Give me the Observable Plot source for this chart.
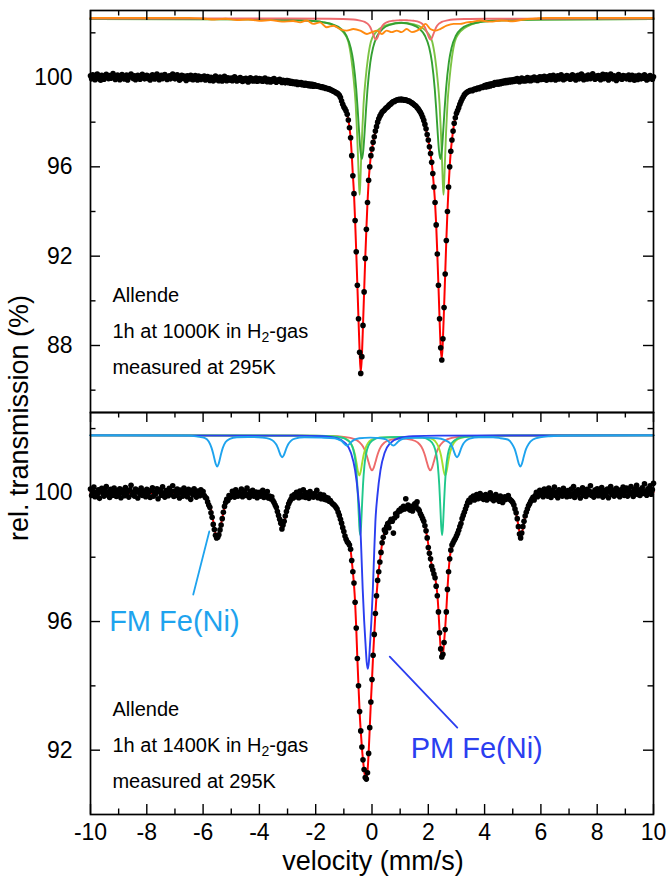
<!DOCTYPE html>
<html><head><meta charset="utf-8">
<script src="https://cdn.jsdelivr.net/npm/d3@7"></script>
<script src="https://cdn.jsdelivr.net/npm/@observablehq/plot@0.6"></script>
<style>
body{margin:0;background:#fff;}
#wrap{position:relative;width:668px;height:884px;font-family:"Liberation Sans",Arial,sans-serif;overflow:hidden;}
#wrap svg{position:absolute;left:0;overflow:visible;}
.ttl{position:absolute;color:#000;font-size:27px;line-height:28px;white-space:nowrap;transform:translate(-50%,-50%);}
</style></head><body><div id="wrap"></div><script>
// ---------- velocity channels ----------
const velStart = -10, velStep = 0.04;

// ---------- top spectrum (1000 K) : measured transmission per channel ----------
const topTransmission = [
100.08,99.94,100.12,100.02,99.90,100.06,100.15,99.96,100.04,99.88,100.10,100.00,99.92,100.07,100.14,100.03,99.95,100.09,99.97,100.05,100.18,100.06,99.91,100.02,100.11,
100.00,99.90,100.07,100.13,100.04,99.93,100.02,100.11,99.89,100.00,100.09,100.16,100.05,99.96,100.08,99.90,100.03,100.10,100.00,99.92,100.07,100.14,100.04,99.94,100.02,
100.10,99.96,100.05,99.89,100.00,100.12,100.06,99.93,100.03,100.15,100.05,99.90,100.00,100.10,99.95,100.05,100.13,100.02,99.91,100.00,100.08,99.94,100.05,100.16,100.02,
99.94,100.05,100.12,100.00,99.88,100.03,100.10,99.96,100.06,100.00,99.87,100.08,100.02,99.93,100.10,100.05,99.90,100.00,100.09,99.96,99.89,100.06,100.00,99.91,100.03,
99.97,100.06,99.89,99.95,100.04,99.92,99.87,100.01,99.95,99.85,99.98,100.07,99.90,99.96,99.86,100.02,99.93,99.84,99.96,100.05,99.90,99.86,99.99,99.93,99.88,
99.97,99.86,99.92,100.03,99.90,99.84,99.95,99.88,100.00,99.91,99.82,99.94,99.87,99.96,99.89,99.80,99.92,99.99,99.86,99.94,99.84,99.90,99.97,99.83,99.92,
99.95,99.86,99.93,99.83,99.90,99.97,99.85,99.81,99.92,99.88,99.80,99.91,99.85,99.95,99.83,99.79,99.89,99.84,99.92,99.82,99.78,99.88,99.84,99.76,99.86,
99.86,99.77,99.84,99.74,99.82,99.73,99.80,99.72,99.80,99.69,99.77,99.70,99.77,99.68,99.74,99.66,99.74,99.65,99.72,99.63,99.71,99.62,99.70,99.61,99.67,
99.64,99.61,99.63,99.59,99.60,99.56,99.58,99.54,99.55,99.51,99.52,99.48,99.49,99.45,99.44,99.41,99.38,99.36,99.32,99.30,99.26,99.20,99.10,98.95,98.80,
98.68,98.60,98.50,98.35,98.10,97.75,97.30,96.50,95.60,94.80,93.60,92.20,90.70,89.20,87.70,86.75,87.50,88.90,90.40,91.90,93.20,94.40,95.40,96.00,96.50,
96.80,97.10,97.35,97.60,97.80,98.00,98.15,98.27,98.36,98.45,98.50,98.54,98.61,98.66,98.69,98.75,98.80,98.83,98.89,98.92,98.93,98.97,98.99,99.00,99.02,
99.00,99.03,98.99,99.01,98.98,99.00,98.97,98.95,98.94,98.90,98.88,98.84,98.80,98.76,98.72,98.66,98.60,98.52,98.44,98.34,98.22,98.08,97.90,97.70,97.45,
97.20,96.90,96.60,96.20,95.70,95.10,94.40,93.40,92.10,90.70,89.20,87.90,87.35,88.30,89.70,91.20,92.70,94.00,95.10,96.00,96.70,97.20,97.60,97.95,98.20,
98.40,98.52,98.65,98.80,98.92,99.04,99.13,99.22,99.28,99.33,99.36,99.38,99.42,99.43,99.41,99.45,99.48,99.46,99.50,99.53,99.50,99.55,99.57,99.55,99.60,
99.64,99.58,99.67,99.60,99.70,99.62,99.72,99.68,99.66,99.77,99.70,99.78,99.70,99.80,99.72,99.82,99.75,99.84,99.77,99.86,99.78,99.87,99.80,99.89,99.81,
99.90,99.82,99.92,99.84,99.95,99.86,99.81,99.92,99.97,99.85,99.93,99.84,99.95,100.00,99.87,99.96,99.86,99.98,99.90,100.02,99.90,99.98,99.87,99.97,100.03,
99.91,100.02,99.92,100.05,99.95,99.88,100.03,99.96,100.08,99.91,99.98,100.10,99.95,99.89,100.02,100.08,99.93,100.01,100.12,99.96,99.90,100.04,99.95,100.09,99.99,
100.05,99.92,100.00,100.12,99.96,100.06,99.89,100.02,100.10,99.94,100.04,100.15,99.98,99.90,100.07,100.00,99.93,100.11,100.03,99.95,100.09,100.17,100.00,99.92,100.06,
99.97,100.09,100.00,99.90,100.06,100.14,99.95,100.03,100.12,99.97,99.89,100.06,100.16,100.02,99.94,100.08,100.00,99.87,100.05,100.13,99.96,100.03,99.92,100.09,100.00,
100.06,99.94,100.00,100.11,99.91,100.03,100.10,99.96,99.88,100.06,100.00,99.91,100.10,100.02,99.94,100.07,99.97,100.12,100.00,99.89,100.04,99.94,100.09,100.00,99.92,100.03
];

// ---------- bottom spectrum (1400 K) ----------
const bottomTransmission = [
100.12,99.92,100.05,100.18,99.88,100.02,99.95,100.10,99.83,100.06,100.14,99.97,99.90,100.08,100.20,99.94,100.03,99.86,100.11,100.00,99.93,100.15,100.04,99.89,100.07,
99.96,100.13,99.85,100.02,100.09,99.91,100.17,99.98,100.05,99.87,100.10,100.24,99.95,100.01,99.90,100.12,100.03,99.84,100.07,99.97,100.15,99.92,100.06,100.00,99.88,
100.11,99.94,100.04,99.86,100.08,100.16,99.90,100.02,99.97,100.13,99.82,100.05,100.10,99.93,100.19,99.99,99.87,100.07,100.02,99.91,100.14,99.95,100.04,100.22,99.89,
100.06,99.93,100.12,99.98,99.84,100.09,100.03,99.90,100.15,99.96,100.05,99.88,100.11,100.00,99.80,100.07,99.94,100.13,100.02,99.87,100.06,99.97,99.91,100.10,99.95,
100.04,99.92,99.86,99.83,99.72,99.62,99.55,99.38,99.24,99.02,98.86,98.68,98.60,98.62,98.70,98.85,99.00,99.20,99.40,99.58,99.70,99.80,99.76,99.92,99.86,
99.90,100.05,99.95,99.87,100.10,99.98,99.90,100.02,99.94,100.12,99.88,99.99,100.06,99.92,100.15,99.96,99.86,100.04,99.93,100.08,99.90,99.97,100.03,99.85,99.95,
100.02,99.90,99.98,100.08,99.86,99.95,99.92,100.04,99.84,99.90,99.82,99.88,99.76,99.70,99.62,99.55,99.42,99.30,99.18,99.06,98.88,99.00,99.12,99.28,99.42,
99.55,99.66,99.74,99.80,99.90,99.84,99.95,99.88,100.02,99.92,99.85,100.06,99.94,99.88,100.10,99.96,99.86,100.00,99.92,99.83,100.04,99.90,99.95,99.87,99.98,
99.92,100.08,99.85,99.90,99.96,99.82,99.88,99.93,99.80,99.86,99.78,99.84,99.74,99.76,99.70,99.66,99.64,99.60,99.55,99.50,99.40,99.30,99.18,99.06,98.92,
98.80,98.66,98.56,98.48,98.44,98.38,98.25,97.90,97.55,97.20,96.60,95.80,94.85,94.00,93.20,92.60,92.10,91.70,91.40,91.15,91.10,91.30,91.90,92.70,93.50,
94.20,94.95,95.60,96.25,96.80,97.28,97.55,97.85,98.15,98.45,98.62,98.85,98.78,98.95,99.05,98.92,99.10,99.18,99.12,98.75,99.22,99.35,99.28,99.40,99.46,
99.44,99.52,99.48,99.58,99.50,99.82,99.55,99.62,99.50,99.46,99.58,99.44,99.52,99.66,99.60,99.72,99.50,99.45,99.35,99.28,99.20,99.12,98.98,98.82,98.60,
98.30,98.12,97.95,97.72,97.60,97.48,97.36,97.10,96.80,96.30,95.65,95.15,94.90,94.98,95.35,95.75,96.30,97.00,97.55,97.95,98.22,98.38,98.45,98.52,98.58,
98.66,98.74,98.84,98.95,99.05,99.20,99.30,99.40,99.50,99.60,99.70,99.77,99.72,99.85,99.80,99.90,99.78,99.86,99.95,99.82,99.88,99.98,99.84,99.92,99.80,
99.86,99.95,99.78,99.90,99.84,100.00,99.82,99.90,99.76,99.88,99.95,99.80,99.86,99.74,99.90,99.82,99.70,99.78,99.88,99.80,99.85,99.92,99.82,99.78,99.75,
99.70,99.62,99.50,99.38,99.20,98.95,98.72,98.60,98.75,98.95,99.12,99.28,99.40,99.50,99.60,99.66,99.74,99.80,99.86,99.78,99.92,100.02,99.88,99.96,100.08,
99.94,100.04,99.88,100.12,99.96,100.06,99.90,100.15,100.00,99.86,100.08,99.95,100.18,99.92,100.03,99.85,100.10,99.98,100.05,99.90,100.14,99.96,100.02,99.88,100.07,
100.00,99.90,100.12,99.97,100.20,99.86,100.05,99.94,100.10,99.99,99.84,100.08,100.16,99.93,100.03,99.89,100.11,99.96,100.06,100.22,99.92,100.01,99.87,100.09,99.95,
100.13,99.91,100.04,99.98,100.17,99.87,100.07,100.00,99.93,100.12,99.85,100.05,100.20,99.96,100.09,99.90,100.02,100.14,99.94,100.06,99.88,100.10,100.00,100.18,99.92,
100.05,100.15,99.90,100.08,99.97,100.20,100.03,99.89,100.12,100.01,100.24,99.95,100.10,99.92,100.06,100.16,99.98,100.28,100.04,99.93,100.13,100.02,100.22,99.96,100.10,100.30
];

// ---------- fitted envelopes [velocity, transmission] ----------
const topFit = [[-10,100.01],[-6,99.98],[-5,99.95],[-4,99.88],[-3,99.78],[-2.5,99.71],[-2,99.62],[-1.6,99.52],[-1.3,99.35],[-1.2,99.27],[-1.12,99.12],[-1.04,98.83],[-1.0,98.7],[-0.96,98.6],[-0.92,98.49],[-0.88,98.34],[-0.84,98.1],[-0.8,97.75],[-0.76,97.3],[-0.72,96.55],[-0.68,95.65],[-0.64,94.8],[-0.6,93.6],[-0.56,92.2],[-0.52,90.7],[-0.48,89.2],[-0.44,87.75],[-0.4,86.8],[-0.36,87.5],[-0.32,88.9],[-0.28,90.4],[-0.24,91.9],[-0.2,93.2],[-0.16,94.4],[-0.12,95.35],[-0.08,96.0],[-0.04,96.5],[0,96.8],[0.08,97.35],[0.16,97.8],[0.24,98.15],[0.36,98.44],[0.52,98.66],[0.72,98.88],[0.92,98.99],[1.1,99.01],[1.25,98.97],[1.4,98.88],[1.52,98.76],[1.64,98.6],[1.72,98.44],[1.8,98.22],[1.88,97.9],[1.96,97.45],[2.04,96.9],[2.12,96.2],[2.2,95.1],[2.24,94.4],[2.28,93.4],[2.32,92.1],[2.36,90.7],[2.4,89.2],[2.44,87.9],[2.48,87.4],[2.52,88.3],[2.56,89.7],[2.6,91.2],[2.64,92.7],[2.68,94.0],[2.72,95.1],[2.76,96.0],[2.8,96.7],[2.84,97.2],[2.88,97.6],[2.92,97.95],[2.96,98.2],[3.04,98.53],[3.12,98.8],[3.2,99.04],[3.3,99.25],[3.5,99.42],[3.8,99.52],[4.0,99.6],[4.5,99.75],[5,99.87],[6,99.96],[7,100.0],[10,100.0]];

const bottomFit = [[-10,100.0],[-7,100.0],[-6.2,99.97],[-6.0,99.92],[-5.9,99.85],[-5.8,99.7],[-5.72,99.5],[-5.66,99.22],[-5.6,98.92],[-5.56,98.74],[-5.52,98.64],[-5.48,98.64],[-5.44,98.72],[-5.4,98.88],[-5.34,99.12],[-5.28,99.38],[-5.2,99.64],[-5.1,99.8],[-4.9,99.92],[-4.2,99.96],[-3.8,99.92],[-3.6,99.85],[-3.5,99.76],[-3.42,99.6],[-3.34,99.38],[-3.28,99.15],[-3.22,98.95],[-3.18,98.92],[-3.14,99.0],[-3.08,99.24],[-3.02,99.48],[-2.94,99.7],[-2.8,99.86],[-2.5,99.94],[-2.0,99.92],[-1.7,99.86],[-1.5,99.76],[-1.36,99.64],[-1.24,99.48],[-1.12,99.2],[-1.04,98.95],[-0.96,98.7],[-0.88,98.5],[-0.8,98.36],[-0.76,98.22],[-0.72,97.9],[-0.68,97.55],[-0.64,97.15],[-0.6,96.6],[-0.56,95.8],[-0.52,94.85],[-0.48,94.0],[-0.44,93.2],[-0.4,92.6],[-0.36,92.1],[-0.32,91.7],[-0.28,91.38],[-0.24,91.16],[-0.2,91.12],[-0.16,91.35],[-0.12,91.9],[-0.08,92.7],[-0.04,93.5],[0,94.2],[0.04,94.95],[0.08,95.6],[0.12,96.25],[0.16,96.8],[0.2,97.25],[0.28,97.88],[0.36,98.42],[0.44,98.75],[0.56,98.98],[0.68,99.12],[0.8,99.26],[0.92,99.38],[1.1,99.52],[1.3,99.58],[1.5,99.54],[1.64,99.44],[1.72,99.34],[1.8,99.18],[1.88,98.96],[1.96,98.62],[2.04,98.16],[2.12,97.76],[2.2,97.48],[2.26,97.28],[2.32,96.85],[2.36,96.35],[2.4,95.7],[2.44,95.15],[2.48,94.88],[2.52,94.98],[2.56,95.35],[2.6,95.8],[2.64,96.35],[2.68,97.0],[2.72,97.55],[2.76,97.95],[2.8,98.2],[2.88,98.45],[2.96,98.58],[3.04,98.74],[3.12,98.94],[3.2,99.18],[3.3,99.44],[3.4,99.66],[3.5,99.78],[3.8,99.88],[4.4,99.86],[4.8,99.82],[4.96,99.74],[5.04,99.6],[5.12,99.38],[5.18,99.08],[5.24,98.78],[5.28,98.66],[5.32,98.72],[5.38,98.98],[5.44,99.26],[5.52,99.52],[5.62,99.72],[5.8,99.88],[6.2,99.98],[10,100.02]];

// ---------- top sub-spectra ----------
const topLightGreen = [[-10,102.62],[-4,102.6],[-2.4,102.56],[-1.84,102.5],[-1.44,102.38],[-1.19,102.22],[-0.99,101.98],[-0.84,101.6],[-0.74,100.9],[-0.65,99.9],[-0.58,98.8],[-0.53,97.5],[-0.49,96.2],[-0.465,95.3],[-0.44,94.75],[-0.415,95.3],[-0.39,96.2],[-0.35,97.5],[-0.3,98.8],[-0.23,99.9],[-0.14,100.9],[-0.04,101.6],[0.11,101.98],[0.31,102.22],[0.6,102.38],[1.05,102.44],[1.5,102.38],[1.79,102.22],[1.99,101.98],[2.14,101.6],[2.24,100.9],[2.33,99.9],[2.4,98.8],[2.45,97.5],[2.49,96.2],[2.515,95.3],[2.54,94.75],[2.565,95.3],[2.59,96.2],[2.63,97.5],[2.68,98.8],[2.75,99.9],[2.84,100.9],[2.94,101.6],[3.09,101.98],[3.29,102.22],[3.54,102.38],[3.94,102.5],[4.6,102.56],[6,102.6],[10,102.62]];
const topDarkGreen = [[-10,102.62],[-4,102.6],[-2.36,102.55],[-1.76,102.48],[-1.36,102.36],[-1.11,102.19],[-0.91,101.87],[-0.76,101.35],[-0.66,100.68],[-0.56,99.48],[-0.51,98.6],[-0.46,97.6],[-0.41,96.72],[-0.36,96.35],[-0.31,96.72],[-0.26,97.6],[-0.21,98.6],[-0.16,99.48],[-0.06,100.68],[0.04,101.35],[0.19,101.87],[0.39,102.19],[0.64,102.36],[1.04,102.45],[1.43,102.36],[1.68,102.19],[1.88,101.87],[2.03,101.35],[2.13,100.68],[2.23,99.48],[2.28,98.6],[2.33,97.6],[2.38,96.72],[2.43,96.35],[2.48,96.72],[2.53,97.6],[2.58,98.6],[2.63,99.48],[2.73,100.68],[2.83,101.35],[2.98,101.87],[3.18,102.19],[3.43,102.36],[3.83,102.48],[4.43,102.55],[6,102.6],[10,102.62]];
const topPink = [[-10,102.64],[-3,102.64],[-1.5,102.63],[-0.66,102.6],[-0.46,102.56],[-0.26,102.49],[-0.16,102.41],[-0.06,102.25],[-0.01,102.1],[0.04,101.94],[0.09,101.78],[0.14,101.7],[0.19,101.78],[0.24,101.94],[0.29,102.1],[0.34,102.25],[0.44,102.41],[0.54,102.48],[0.74,102.54],[0.94,102.56],[1.11,102.57],[1.28,102.56],[1.48,102.54],[1.68,102.48],[1.78,102.41],[1.88,102.25],[1.93,102.1],[1.98,101.94],[2.03,101.78],[2.08,101.7],[2.13,101.78],[2.18,101.94],[2.23,102.1],[2.28,102.25],[2.38,102.41],[2.48,102.49],[2.68,102.56],[2.88,102.6],[3.28,102.62],[4.1,102.63],[10,102.64]];
const topOrange = [[-10,102.67],[-6.5,102.67],[-6.0,102.64],[-5.6,102.6],[-5.2,102.63],[-4.8,102.57],[-4.4,102.6],[-4.0,102.54],[-3.6,102.57],[-3.2,102.5],[-2.8,102.53],[-2.55,102.47],[-2.32,102.55],[-2.08,102.4],[-1.85,102.47],[-1.61,102.25],[-1.37,102.32],[-1.13,102.17],[-0.9,102.1],[-0.66,102.17],[-0.42,102.1],[-0.18,101.95],[0,102.03],[0.17,102.1],[0.35,101.95],[0.52,102.1],[0.7,102.03],[0.88,102.1],[1.05,102.03],[1.23,102.17],[1.42,102.03],[1.6,102.1],[1.78,102.25],[1.9,102.4],[2.07,102.17],[2.25,102.1],[2.42,102.17],[2.65,102.32],[2.9,102.4],[3.13,102.4],[3.37,102.47],[3.6,102.5],[3.84,102.55],[4.2,102.5],[4.6,102.55],[5.0,102.52],[5.4,102.6],[5.8,102.64],[6.2,102.67],[10,102.67]];

// ---------- bottom sub-spectra ----------
const botFM = [[-10,101.79],[-6.5,101.78],[-6.2,101.75],[-5.95,101.71],[-5.8,101.6],[-5.7,101.4],[-5.65,101.25],[-5.6,101.07],[-5.55,100.9],[-5.5,100.82],[-5.45,100.9],[-5.4,101.07],[-5.35,101.25],[-5.3,101.4],[-5.2,101.58],[-5.05,101.68],[-4.8,101.73],[-4.4,101.74],[-3.9,101.72],[-3.64,101.68],[-3.49,101.6],[-3.39,101.49],[-3.34,101.39],[-3.29,101.27],[-3.24,101.16],[-3.19,101.11],[-3.14,101.16],[-3.09,101.27],[-3.04,101.39],[-2.99,101.49],[-2.89,101.61],[-2.74,101.69],[-2.4,101.73],[-1.8,101.72],[-1.34,101.7],[-1.19,101.66],[-1.09,101.62],[-1.04,101.58],[-0.99,101.53],[-0.94,101.49],[-0.89,101.47],[-0.84,101.49],[-0.79,101.53],[-0.74,101.58],[-0.64,101.65],[-0.45,101.7],[-0.06,101.72],[0.31,101.7],[0.5,101.66],[0.61,101.58],[0.66,101.53],[0.71,101.49],[0.76,101.47],[0.81,101.49],[0.86,101.53],[0.91,101.58],[1.01,101.65],[1.2,101.7],[1.8,101.72],[2.32,101.7],[2.57,101.65],[2.72,101.58],[2.82,101.49],[2.87,101.39],[2.92,101.27],[2.97,101.16],[3.02,101.11],[3.07,101.16],[3.12,101.27],[3.17,101.39],[3.22,101.49],[3.32,101.61],[3.47,101.69],[3.8,101.73],[4.3,101.73],[4.57,101.7],[4.82,101.66],[4.97,101.53],[5.07,101.36],[5.12,101.22],[5.17,101.05],[5.22,100.89],[5.27,100.82],[5.32,100.89],[5.37,101.05],[5.42,101.22],[5.47,101.36],[5.57,101.53],[5.72,101.66],[5.97,101.73],[6.3,101.76],[7,101.78],[10,101.79]];
const botPM = [[-10,101.79],[-2.65,101.78],[-1.75,101.76],[-1.25,101.7],[-0.95,101.55],[-0.75,101.25],[-0.6,100.7],[-0.49,99.9],[-0.42,99.1],[-0.38,98.2],[-0.33,97.0],[-0.28,96.05],[-0.23,95.3],[-0.19,94.75],[-0.15,94.53],[-0.11,94.75],[-0.07,95.3],[-0.02,96.05],[0.03,97.0],[0.08,98.2],[0.12,99.1],[0.19,99.9],[0.3,100.7],[0.45,101.25],[0.65,101.55],[0.95,101.7],[1.45,101.76],[2.35,101.78],[10,101.79]];
const botTeal = [[-10,101.79],[-2,101.78],[-1.62,101.77],[-1.12,101.73],[-0.87,101.64],[-0.72,101.48],[-0.62,101.17],[-0.57,100.84],[-0.52,100.24],[-0.48,99.51],[-0.45,98.95],[-0.42,98.69],[-0.39,98.95],[-0.36,99.51],[-0.32,100.24],[-0.27,100.84],[-0.22,101.17],[-0.12,101.48],[0.03,101.64],[0.28,101.72],[1.04,101.74],[1.79,101.72],[2.04,101.64],[2.19,101.48],[2.29,101.17],[2.34,100.84],[2.39,100.24],[2.43,99.51],[2.46,98.95],[2.49,98.69],[2.52,98.95],[2.55,99.51],[2.59,100.24],[2.64,100.84],[2.69,101.17],[2.79,101.48],[2.94,101.64],[3.19,101.73],[3.69,101.77],[5,101.79],[10,101.79]];
const botLime = [[-10,101.79],[-2.5,101.78],[-1.65,101.77],[-1.15,101.74],[-0.9,101.67],[-0.75,101.54],[-0.67,101.39],[-0.6,101.17],[-0.55,100.93],[-0.5,100.67],[-0.45,100.54],[-0.4,100.67],[-0.35,100.93],[-0.3,101.17],[-0.23,101.39],[-0.15,101.54],[0,101.66],[0.25,101.72],[1.07,101.74],[1.9,101.72],[2.15,101.67],[2.3,101.54],[2.38,101.39],[2.45,101.17],[2.5,100.93],[2.55,100.67],[2.6,100.54],[2.65,100.67],[2.7,100.93],[2.75,101.17],[2.82,101.39],[2.9,101.54],[3.05,101.67],[3.3,101.74],[3.8,101.77],[5,101.78],[10,101.79]];
const botSalmon = [[-10,101.79],[-2.5,101.78],[-1.5,101.77],[-1.0,101.74],[-0.65,101.68],[-0.45,101.58],[-0.32,101.44],[-0.22,101.25],[-0.18,101.14],[-0.12,100.95],[-0.06,100.78],[0,100.7],[0.06,100.78],[0.12,100.95],[0.18,101.14],[0.22,101.25],[0.32,101.44],[0.45,101.57],[0.65,101.65],[1.035,101.69],[1.42,101.65],[1.62,101.57],[1.75,101.44],[1.85,101.25],[1.89,101.14],[1.95,100.95],[2.01,100.78],[2.07,100.7],[2.13,100.78],[2.19,100.95],[2.25,101.14],[2.29,101.25],[2.39,101.44],[2.52,101.58],[2.72,101.68],[3.07,101.74],[3.57,101.77],[4.5,101.78],[10,101.79]];

// ---------- ticks & labels ----------
const xMajor = [-10,-8,-6,-4,-2,0,2,4,6,8,10];
const xMinor = [-9,-7,-5,-3,-1,1,3,5,7,9];
const topYMajor = [88,92,96,100];
const topYMinor = [86,90,94,98,102];
const botYMajor = [92,96,100];
const botYMinor = [94,98,102];

// ---------- annotations ----------
const topNoteText = ["Allende","1h at 1000K in H₂-gas","measured at 295K"];
const topNoteY = [90.24,88.62,87.01];
const botNoteText = ["Allende","1h at 1400K in H₂-gas","measured at 295K"];
const botNoteY = [93.26,92.15,91.03];
const noteX = -9.22;
const fmLabel = {text:"FM Fe(Ni)", x:-7.02, y:96.0, color:"#1ea3ee"};
const pmLabel = {text:"PM Fe(Ni)", x:3.72, y:92.05, color:"#2b3ef0"};
const fmLeader = [[-6.35,96.84],[-5.78,98.8]];
const pmLeader = [[0.63,94.91],[3.03,92.7]];

// ---------- layout ----------
const W = 668, ML = 90, MR = 15;
const innerW = W - ML - MR, innerH = 402;
const LMAJ = 10, LMIN = 5.5;
const font = "Liberation Sans, Arial, sans-serif";

function tickMarks(yMaj, yMin, bottomTicks) {
  const s = {stroke:"#000", strokeWidth:1.4};
  const m = [
    Plot.tickY(yMaj, {y:d=>d, insetRight: innerW-LMAJ, ...s}),
    Plot.tickY(yMaj, {y:d=>d, insetLeft: innerW-LMAJ, ...s}),
    Plot.tickY(yMin, {y:d=>d, insetRight: innerW-LMIN, ...s}),
    Plot.tickY(yMin, {y:d=>d, insetLeft: innerW-LMIN, ...s}),
    Plot.tickX(xMajor, {x:d=>d, insetBottom: innerH-LMAJ, ...s}),
    Plot.tickX(xMinor, {x:d=>d, insetBottom: innerH-LMIN, ...s})
  ];
  if (bottomTicks) {
    m.push(Plot.tickX(xMajor, {x:d=>d, insetTop: innerH-LMAJ, ...s}));
    m.push(Plot.tickX(xMinor, {x:d=>d, insetTop: innerH-LMIN, ...s}));
  }
  return m;
}
const comp = (arr, color) => Plot.line(arr, {x:d=>d[0], y:d=>d[1], stroke: color, strokeWidth: 1.9, curve:"monotone-x"});
const rows = vals => vals.map((t,i)=>({v: velStart + i*velStep, t}));

const topPlot = Plot.plot({
  width: W, height: 412, marginLeft: ML, marginRight: MR, marginTop: 10, marginBottom: 0,
  style: {fontFamily: font, fontSize: "23px", background: "transparent", overflow: "visible"},
  x: {domain: [-10, 10], axis: null},
  y: {domain: [85, 103]},
  marks: [
    comp(topLightGreen, "#7cc444"),
    comp(topDarkGreen, "#34a032"),
    comp(topPink, "#ee6b6e"),
    comp(topOrange, "#ff8a10"),
    Plot.line(topFit, {x:d=>d[0], y:d=>d[1], stroke:"#ff0000", strokeWidth:2, curve:"monotone-x"}),
    Plot.dot(rows(topTransmission), {x:"v", y:"t", r:2.8, fill:"#000", stroke:null}),
    Plot.text(topNoteText, {x: noteX, y:(d,i)=>topNoteY[i], text:d=>d, textAnchor:"start", fontSize:20, fill:"#000"}),
    ...tickMarks(topYMajor, topYMinor, false),
    Plot.axisY(topYMajor, {anchor:"left", tickSize:0, tickPadding:18, label:null, fontSize:23}),
    Plot.frame({stroke:"#000", strokeWidth:1.7})
  ]
});

const botPlot = Plot.plot({
  width: W, height: 472, marginLeft: ML, marginRight: MR, marginTop: 0, marginBottom: 70,
  style: {fontFamily: font, fontSize: "23px", background: "transparent", overflow: "visible"},
  x: {domain: [-10, 10]},
  y: {domain: [90, 102.5]},
  marks: [
    comp(botSalmon, "#ee6b6b"),
    comp(botLime, "#a6de2c"),
    comp(botTeal, "#20c88c"),
    comp(botPM, "#2b3ef0"),
    comp(botFM, "#1ea3ee"),
    Plot.line(bottomFit, {x:d=>d[0], y:d=>d[1], stroke:"#ff0000", strokeWidth:2, curve:"monotone-x"}),
    Plot.dot(rows(bottomTransmission), {x:"v", y:"t", r:2.8, fill:"#000", stroke:null}),
    Plot.text(botNoteText, {x: noteX, y:(d,i)=>botNoteY[i], text:d=>d, textAnchor:"start", fontSize:20, fill:"#000"}),
    Plot.line(fmLeader, {x:d=>d[0], y:d=>d[1], stroke: fmLabel.color, strokeWidth:1.8}),
    Plot.line(pmLeader, {x:d=>d[0], y:d=>d[1], stroke: pmLabel.color, strokeWidth:1.8}),
    Plot.text([fmLabel, pmLabel], {x:"x", y:"y", text:"text", fill:d=>d.color, fontSize:29, textAnchor:"middle"}),
    ...tickMarks(botYMajor, botYMinor, true),
    Plot.axisY(botYMajor, {anchor:"left", tickSize:0, tickPadding:18, label:null, fontSize:23}),
    Plot.axisX(xMajor, {anchor:"bottom", tickSize:0, tickPadding:9, label:null, fontSize:23, tickFormat:d=>String(d)}),
    Plot.frame({stroke:"#000", strokeWidth:1.7})
  ]
});

function subscript(svg) {
  const ns = "http://www.w3.org/2000/svg";
  svg.querySelectorAll("text").forEach(t => {
    const s = t.textContent;
    if (!s.includes("₂") || t.children.length > 1) return;
    const [a, b] = s.split("₂");
    while (t.firstChild) t.removeChild(t.firstChild);
    t.appendChild(document.createTextNode(a));
    const sub = document.createElementNS(ns, "tspan");
    sub.setAttribute("dy", "4"); sub.setAttribute("font-size", "14"); sub.textContent = "2";
    t.appendChild(sub);
    const rest = document.createElementNS(ns, "tspan");
    rest.setAttribute("dy", "-4"); rest.textContent = b;
    t.appendChild(rest);
  });
}
subscript(topPlot); subscript(botPlot);

const wrap = document.getElementById("wrap");
topPlot.style.top = "0px";
botPlot.style.top = "412px";
wrap.appendChild(topPlot);
wrap.appendChild(botPlot);

const xt = document.createElement("div");
xt.className = "ttl"; xt.textContent = "velocity (mm/s)";
xt.style.left = "373px"; xt.style.top = "861px";
wrap.appendChild(xt);
const yt = document.createElement("div");
yt.className = "ttl"; yt.textContent = "rel. transmission (%)";
yt.style.left = "19px"; yt.style.top = "418px";
yt.style.transform = "translate(-50%,-50%) rotate(-90deg)";
wrap.appendChild(yt);
</script></body></html>
